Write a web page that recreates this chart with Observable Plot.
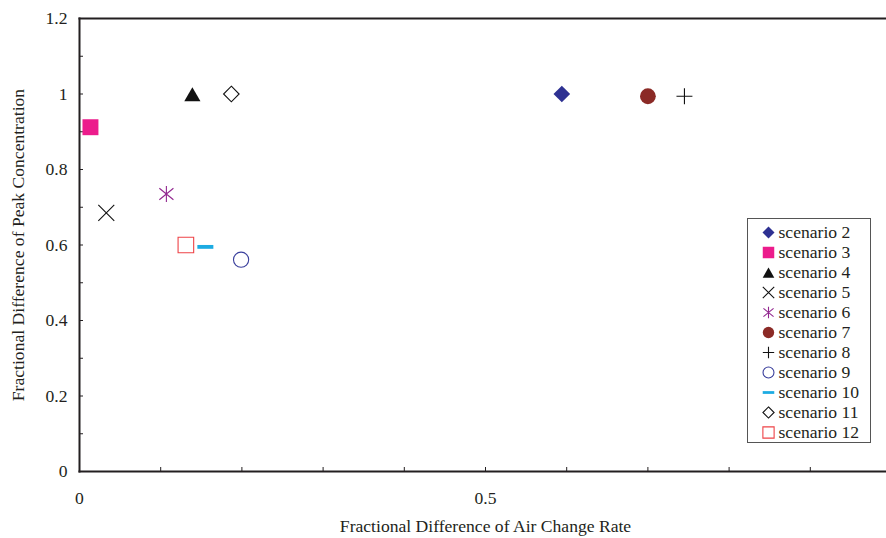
<!DOCTYPE html>
<html><head><meta charset="utf-8">
<script src="https://cdn.jsdelivr.net/npm/d3@7"></script>
<script src="https://cdn.jsdelivr.net/npm/@observablehq/plot@0.6"></script>
<style>
html,body{margin:0;padding:0;background:#fff;overflow:hidden}
#wrap{position:relative;width:886px;height:538px}
#legend{position:absolute;left:747px;top:218px;border:1px solid #555;background:#fff;line-height:0}
</style></head><body><div id="wrap"><div id="chart"></div><div id="legend"></div></div>
<script>
// ---- data ----
const scenarios = ["scenario 2","scenario 3","scenario 4","scenario 5","scenario 6","scenario 7","scenario 8","scenario 9","scenario 10","scenario 11","scenario 12"];
const airChange = [0.594, 0.0135, 0.139, 0.033, 0.107, 0.700, 0.745, 0.199, 0.155, 0.187, 0.131];
const peakConc  = [1.000, 0.912, 1.000, 0.685, 0.735, 0.994, 0.994, 0.561, 0.595, 1.000, 0.600];
const xTicks = [0, 0.1, 0.2, 0.3, 0.4, 0.5, 0.6, 0.7, 0.8, 0.9];
const xTickLabels = [0, 0.5];
const yTicks = [0, 0.1, 0.2, 0.3, 0.4, 0.5, 0.6, 0.7, 0.8, 0.9, 1.0, 1.1, 1.2];
const yTickLabels = [0, 0.2, 0.4, 0.6, 0.8, 1.0, 1.2];
const xLabel = "Fractional Difference of Air Change Rate";
const yLabel = "Fractional Difference of Peak Concentration";

// ---- styles ----
const dash = {draw(ctx, size){ const r = Math.sqrt(size / Math.PI); ctx.rect(-r, -r * 0.24, 2 * r, r * 0.48); }};
const star = {draw(ctx, size){
  const r = Math.sqrt(size / Math.PI);
  ctx.moveTo(0, -r); ctx.lineTo(0, r);
  ctx.moveTo(-0.88 * r, -0.72 * r); ctx.lineTo(0.88 * r, 0.72 * r);
  ctx.moveTo(-0.88 * r, 0.72 * r); ctx.lineTo(0.88 * r, -0.72 * r);
}};
const styles = [
  {symbol: "diamond2", fill: "#2e3192", stroke: "none", r: 7.5},
  {symbol: "square",   fill: "#ec1c8c", stroke: "none", r: 9},
  {symbol: "triangle", fill: "#111",    stroke: "none", r: 6, dy: 2.5},
  {symbol: "times",    fill: "none",    stroke: "#111", r: 7.3},
  {symbol: star,       fill: "none",    stroke: "#92278f", r: 8},
  {symbol: "circle",   fill: "#8b2a26", stroke: "none", r: 7.9},
  {symbol: "plus",     fill: "none",    stroke: "#111", r: 5.2},
  {symbol: "circle",   fill: "none",    stroke: "#3a3f9c", r: 7.6},
  {symbol: dash,       fill: "#1cabe2", stroke: "none", r: 8},
  {symbol: "diamond2", fill: "none",    stroke: "#111", r: 7},
  {symbol: "square",   fill: "none",    stroke: "#ee4347", r: 8.8}
];
const font = "'Liberation Serif', 'Times New Roman', serif";
const ink = "#231f20";
const fs = 17.6;
const fmt = d3.format("~g");

const data = scenarios.map((s, i) => ({scenario: s, x: airChange[i], y: peakConc[i]}));

const chart = Plot.plot({
  width: 886, height: 538,
  marginLeft: 79, marginRight: 0, marginTop: 18, marginBottom: 67,
  style: {fontFamily: font, fontSize: fs + "px", color: ink, background: "#fff"},
  x: {domain: [0, 807 / 812]},
  y: {domain: [0, 1.2]},
  marks: [
    Plot.axisX({ticks: xTicks, tickSize: -4, text: null, label: null, stroke: ink}),
    Plot.axisX({ticks: xTickLabels, tickSize: 0, tickPadding: 20, tickFormat: fmt, label: null, fontSize: fs, fill: ink}),
    Plot.axisY({ticks: yTicks, tickSize: -4, text: null, label: null, stroke: ink}),
    Plot.axisY({ticks: yTickLabels, tickSize: 0, tickPadding: 12, tickFormat: fmt, label: null, fontSize: fs, fill: ink}),
    Plot.frame({anchor: "top", stroke: ink, strokeWidth: 2}),
    Plot.frame({anchor: "left", stroke: ink, strokeWidth: 2}),
    Plot.frame({anchor: "bottom", stroke: ink, strokeWidth: 2}),
    ...styles.map((st, i) => Plot.dot([data[i]], {
      x: "x", y: "y", symbol: st.symbol, fill: st.fill, stroke: st.stroke,
      strokeWidth: 1.1, r: st.r, dy: st.dy || 0
    })),
    Plot.text([xLabel], {text: d => d, frameAnchor: "bottom", textAnchor: "middle", lineAnchor: "middle", dy: 55, dx: 2.5, fontSize: fs, fill: ink}),
    Plot.text([yLabel], {text: d => d, frameAnchor: "left", textAnchor: "middle", lineAnchor: "middle", rotate: -90, dx: -61, fontSize: fs, fill: ink})
  ]
});
document.getElementById("chart").appendChild(chart);

const legend = Plot.plot({
  width: 122, height: 223, margin: 0,
  style: {fontFamily: font, fontSize: fs + "px", color: ink, background: "#fff"},
  x: {axis: null, domain: [0, 1]},
  y: {type: "point", domain: scenarios, range: [12.7, 213.7], padding: 0, axis: null},
  marks: [
    ...styles.map((st, i) => Plot.dot([scenarios[i]], {
      y: d => d, frameAnchor: "left", dx: 20, symbol: st.symbol, fill: st.fill, stroke: st.stroke,
      strokeWidth: 1.1, r: st.r * 0.72, dy: (st.dy || 0) * 0.72
    })),
    Plot.text(scenarios, {y: d => d, text: d => d, frameAnchor: "left", dx: 30, textAnchor: "start", lineAnchor: "middle", fontSize: fs, fill: ink})
  ]
});
document.getElementById("legend").appendChild(legend);
</script>
</body></html>
